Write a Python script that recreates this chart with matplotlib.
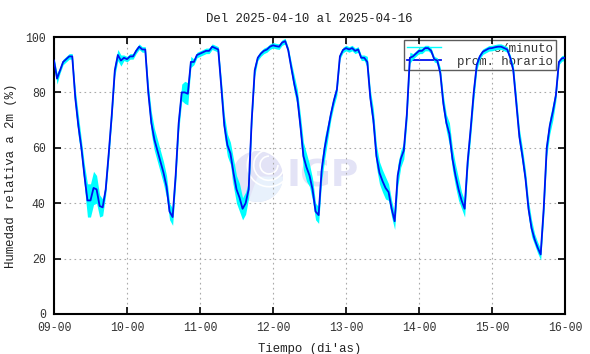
import numpy as np
import matplotlib
matplotlib.use("Agg")
import matplotlib.pyplot as plt
from matplotlib.patches import Circle, Arc, Wedge

# Hourly mean relative humidity (%), one list per day
day_09 = [91.5, 85, 88, 91, 92, 93, 93, 78, 68, 60, 50, 41,
          41, 45.5, 45, 39, 38.5, 45, 58, 72, 88, 93.5, 91.5, 92.5]
day_10 = [92, 93, 93, 95, 96.5, 95.5, 95.5, 80, 69, 63, 59, 55,
          51, 46, 37, 35, 50, 69, 80, 80, 79.5, 91, 91, 93.5]
day_11 = [94, 94.5, 95, 95, 96.5, 96, 95.5, 82, 68, 61, 58, 51,
          45, 42, 38, 40, 45, 70, 88, 92.5, 94, 95, 95.5, 96.5]
day_12 = [97, 96.7, 96.5, 98, 98.5, 95.3, 89, 83, 78, 68, 57, 53,
          50, 45, 37, 35.7, 52, 60, 66, 72, 77, 81, 93, 95.3]
day_13 = [96, 95.5, 96, 95, 95.5, 92.5, 92.5, 91, 78, 70, 57, 51,
          48, 45.5, 44, 38, 33.5, 50, 56, 59, 72, 92.5, 93, 94]
day_14 = [95, 95, 96, 96, 95, 92, 91.5, 87, 76, 69, 65, 56,
          50, 45, 41, 38, 55, 67, 80, 90, 93, 94.7, 95.3, 95.9]
day_15 = [96, 96.3, 96.5, 96.5, 96, 95.5, 92.5, 88, 76, 64, 57, 49,
          38, 31, 27, 24, 21.5, 38, 60, 68, 73, 79, 91, 92.3]
last_value = 92.5

# spread of the per-minute readings around the hourly mean (%)
spread_09 = [1, 2, 1, 1, 1, 1, 1, 3, 4, 3, 4, 6, 6, 6, 5, 4, 3, 2, 2, 2, 2, 2, 2, 1]
spread_10 = [1, 1, 1, 1, 1, 1, 1, 3, 4, 4, 4, 4, 4, 4, 3, 3, 3, 3, 3, 4, 4, 2, 1, 1]
spread_11 = [1, 1, 1, 1, 1, 1, 1, 3, 4, 4, 4, 5, 5, 5, 4, 4, 3, 2, 2, 1, 1, 1, 1, 1]
spread_12 = [1, 1, 1, 1, 1, 1, 2, 3, 3, 4, 5, 5, 4, 4, 3, 3, 4, 4, 3, 2, 2, 2, 1, 1]
spread_13 = [1, 1, 1, 1, 1, 1, 1, 2, 3, 4, 4, 4, 4, 4, 3, 3, 3, 4, 3, 3, 3, 2, 1, 1]
spread_14 = [1, 1, 1, 1, 1, 1, 1, 2, 3, 3, 4, 4, 4, 4, 3, 3, 3, 3, 3, 2, 1, 1, 1, 1]
spread_15 = [1, 1, 1, 1, 1, 1, 1, 2, 3, 3, 3, 3, 3, 3, 2, 2, 2, 3, 3, 3, 3, 2, 1, 1]

tick_labels = ["09-00", "10-00", "11-00", "12-00", "13-00", "14-00", "15-00", "16-00"]

hourly = np.array(day_09 + day_10 + day_11 + day_12 + day_13 + day_14 + day_15 + [last_value])
spread = np.array(spread_09 + spread_10 + spread_11 + spread_12 + spread_13 + spread_14 + spread_15 + [1])
hours = np.arange(len(hourly))

plt.rcParams['font.family'] = ['Liberation Mono', 'DejaVu Sans Mono']

fig = plt.figure(figsize=(5.9, 3.54), dpi=100)
ax = fig.add_axes([54 / 590, 1 - 314 / 354, 511 / 590, 277 / 354])

# watermark logo
lax = fig.add_axes([232 / 590, 1 - 203 / 354, 51 / 590, 53 / 354], zorder=0)
lax.set_xlim(-1, 1)
lax.set_ylim(-1, 1)
lax.set_aspect('equal')
lax.axis('off')
lax.add_patch(Circle((0, 0), 1.0, color='#e3e3f6', lw=0))
lax.add_patch(Wedge((0, 0), 1.0, 250, 360, color='#e8f1fc', lw=0))
for r in [0.35, 0.6, 0.85]:
    lax.add_patch(Arc((0.45, 0.45), 2 * r, 2 * r, theta1=90, theta2=360, color='white', lw=1.2))
fig.text(286 / 590, 1 - 176 / 354, "IGP", family='DejaVu Sans', fontweight='bold',
         fontsize=27, color='#e3e3f6', ha='left', va='center', zorder=0)
ax.set_facecolor('none')
ax.set_zorder(2)

ax.fill_between(hours, hourly - spread, hourly + spread, color='cyan', lw=0, zorder=2)
ax.plot(hours, hourly, color='cyan', lw=1.0, zorder=2, label="     c/minuto")
ax.plot(hours, hourly, color='#0010f0', lw=1.3, zorder=3, label="prom. horario")

ax.set_xlim(0, 168)
ax.set_ylim(0, 100)
ax.set_xticks(np.arange(0, 169, 24))
ax.set_xticklabels(tick_labels)
ax.set_yticks(np.arange(0, 101, 20))
ax.tick_params(direction='in', length=5, width=1.2, top=True, right=True,
               labelsize=8.3, colors='black', labelcolor='#333333', pad=6)
for s in ax.spines.values():
    s.set_linewidth(1.5)
ax.grid(True, color='#aaaaaa', linestyle=(0, (1.5, 3)), linewidth=0.8)

ax.set_title("Del 2025-04-10 al 2025-04-16", fontsize=8.9, pad=11, color='#222222')
ax.set_xlabel("Tiempo (di'as)", fontsize=8.9, color='#222222', labelpad=6)
ax.set_ylabel("Humedad relativa a 2m (%)", fontsize=8.9, color='#222222', labelpad=6)

leg = ax.legend(loc='upper right', bbox_to_anchor=(0.982, 0.989), fontsize=8.9,
                frameon=True, fancybox=False, facecolor='none', edgecolor='#333333',
                handlelength=2.8, handletextpad=1.3, borderpad=0.2, labelspacing=0.1,
                borderaxespad=0)
leg.get_frame().set_linewidth(1.0)
for t in leg.get_texts():
    t.set_color('#333333')
leg.set_zorder(1)

fig.savefig("out.png", dpi=100)
